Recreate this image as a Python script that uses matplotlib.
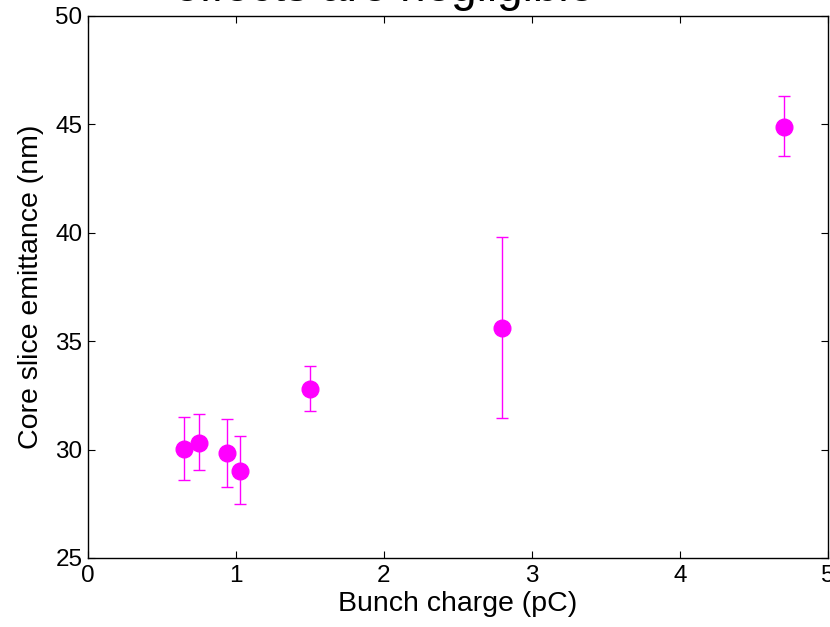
import matplotlib
matplotlib.use("Agg")
import matplotlib.pyplot as plt

# =========================
# Data
# =========================

charge = [0.65, 0.75, 0.94, 1.03, 1.5, 2.8, 4.7]
emittance = [30.05, 30.32, 29.83, 29.03, 32.8, 35.6, 44.9]
err_low = [1.47, 1.26, 1.54, 1.53, 1.02, 4.14, 1.36]
err_high = [1.44, 1.32, 1.58, 1.61, 1.06, 4.2, 1.43]

plt.rcParams["font.family"] = ["Liberation Sans", "DejaVu Sans"]

fig = plt.figure(figsize=(8.3, 6.27), dpi=100)
ax = fig.add_axes([88 / 830, 1 - 558 / 627, 740 / 830, 542 / 627])

ax.errorbar(charge, emittance, yerr=[err_low, err_high], fmt="o",
            color="#ff00ff", ecolor="#ff00ff", markersize=12,
            elinewidth=1, capsize=4.3, capthick=1)

ax.set_xlim(0, 5)
ax.set_ylim(25, 50)
ax.set_xticks([0, 1, 2, 3, 4, 5])
ax.set_yticks([25, 30, 35, 40, 45, 50])
ax.tick_params(direction="in", top=True, right=True, labelsize=17.5,
               length=5)
ax.tick_params(axis="x", pad=5)
ax.tick_params(axis="y", pad=4)
for s in ax.spines.values():
    s.set_linewidth(1)

ax.set_xlabel("Bunch charge (pC)", fontsize=20.5, labelpad=3)
ax.set_ylabel("Core slice emittance (nm)", fontsize=20.5, labelpad=8)

# title cut off at the top of the figure
fig.text(174 / 830, 1 - 1.0 / 627, "effects are negligible", fontsize=33,
         ha="left", va="baseline")

fig.savefig("out.png", dpi=100)
